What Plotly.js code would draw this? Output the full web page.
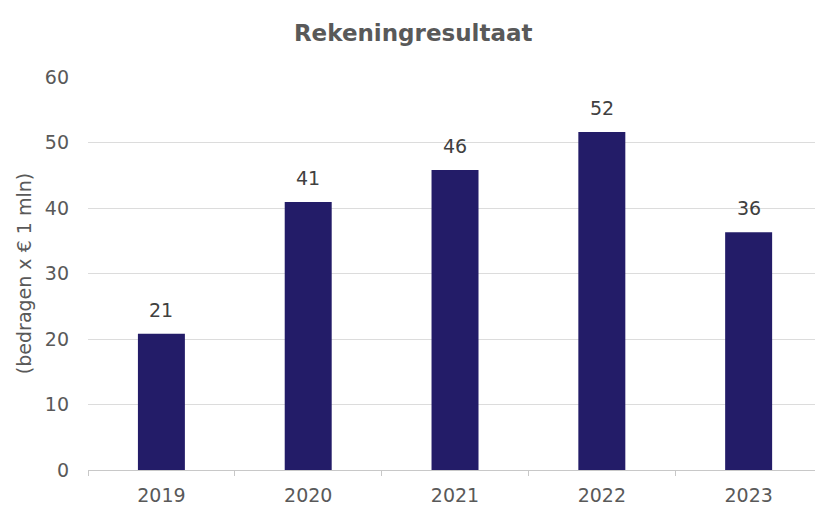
<!DOCTYPE html>
<html><head><meta charset="utf-8">
<script src="https://cdn.plot.ly/plotly-3.0.1.min.js"></script>
<style>html,body{margin:0;padding:0;background:#fff}#chart{width:815px;height:507px}</style>
</head><body><div id="chart"></div>
<script>
const years = ['2019','2020','2021','2022','2023'];
const values = [20.8, 40.9, 45.8, 51.6, 36.3];
const yTicks = [0,10,20,30,40,50,60];

const FONT = 'DejaVu Sans, Liberation Sans, Arial, sans-serif';
const trace = {
  type: 'bar', x: years, y: values,
  marker: {color: '#231c68'},
  hoverinfo: 'skip'
};
const annotations = years.map((yr, i) => ({
  x: i, y: values[i], xref: 'x', yref: 'y',
  text: String(Math.round(values[i])), showarrow: false,
  yanchor: 'middle', yshift: 24,
  font: {family: FONT, size: 19, color: '#404040'}
}));
const layout = {
  width: 815, height: 507,
  margin: {l: 88, r: 0, t: 77, b: 37},
  paper_bgcolor: '#fff', plot_bgcolor: '#fff',
  bargap: 0.68,
  showlegend: false,
  font: {family: FONT, color: '#595959'},
  annotations: annotations,
  title: {text: '<b>Rekeningresultaat</b>', x: 0.507, xref: 'container', y: 0.951, yref: 'container',
          font: {family: FONT, size: 23, color: '#595959'}},
  xaxis: {type: 'category', range: [-0.5, 4.452], showline: true, linecolor: '#c8c8c8', linewidth: 1,
          ticks: 'outside', tickson: 'boundaries', ticklen: 5, tickcolor: '#c8c8c8',
          ticklabelstandoff: 8,
          tickfont: {size: 19, color: '#595959'}, showgrid: false, fixedrange: true},
  yaxis: {range: [0, 60], tickvals: yTicks, showgrid: true, gridcolor: '#dcdcdc', gridwidth: 1,
          zeroline: false, showline: false, ticks: '', ticklabelstandoff: 18,
          tickfont: {size: 19, color: '#595959'},
          title: {text: '(bedragen x € 1 mln)', standoff: 8, font: {size: 19, color: '#595959'}}}
};
Plotly.newPlot('chart', [trace], layout, {displayModeBar: false, staticPlot: true});
</script></body></html>
